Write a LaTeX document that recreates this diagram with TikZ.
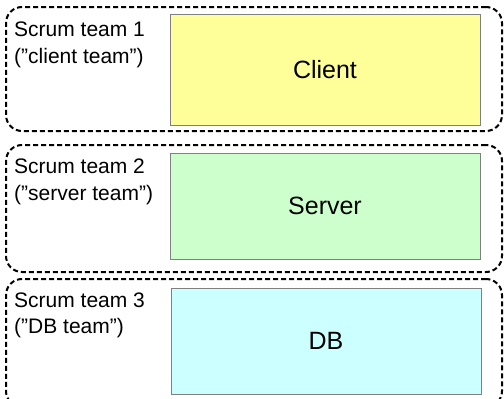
\documentclass[tikz,border=0pt]{standalone}
\usepackage{fontspec}
\setmainfont{Liberation Sans}
\begin{document}
\begin{tikzpicture}[x=1pt,y=-1pt,
  teambox/.style={draw=black, line width=2pt, dash pattern=on 5pt off 3pt,
    rounded corners=16pt, inner sep=0pt},
  compbox/.style={draw={rgb,255:red,128;green,128;blue,128}, line width=1pt, inner sep=0pt,
    minimum width=310pt, minimum height=106pt,
    font=\fontsize{25}{30}\selectfont},
  teamlabel/.style={anchor=base west, inner sep=0pt,
    font=\fontsize{21}{25}\selectfont}]
\useasboundingbox (0,0) rectangle (504,399);
\clip (0,0) rectangle (504,399);
% team boxes
\node[teambox, minimum width=496pt, minimum height=124pt] (t1) at (254,69) {};
\node[teambox, minimum width=496pt, minimum height=127pt] (t2) at (254,208.5) {};
\node[teambox, minimum width=496pt, minimum height=128pt] (t3) at (254,343) {};
% component boxes
\node[compbox, fill={rgb,255:red,255;green,255;blue,153}, minimum height=111pt] (client) at (325,69.5) {Client};
\node[compbox, fill={rgb,255:red,204;green,255;blue,204}] (server) at (325,206) {Server};
\node[compbox, fill={rgb,255:red,204;green,255;blue,255}] (db) at (326,341) {DB};
% labels
\node[teamlabel] (l1a) at (14,36) {Scrum team 1};
\node[teamlabel] (l1b) at (14,63) {(”client team”)};
\node[teamlabel] (l2a) at (14,173) {Scrum team 2};
\node[teamlabel] (l2b) at (14,200) {(”server team”)};
\node[teamlabel] (l3a) at (14,307) {Scrum team 3};
\node[teamlabel] (l3b) at (14,333) {(”DB team”)};
\end{tikzpicture}
\end{document}
